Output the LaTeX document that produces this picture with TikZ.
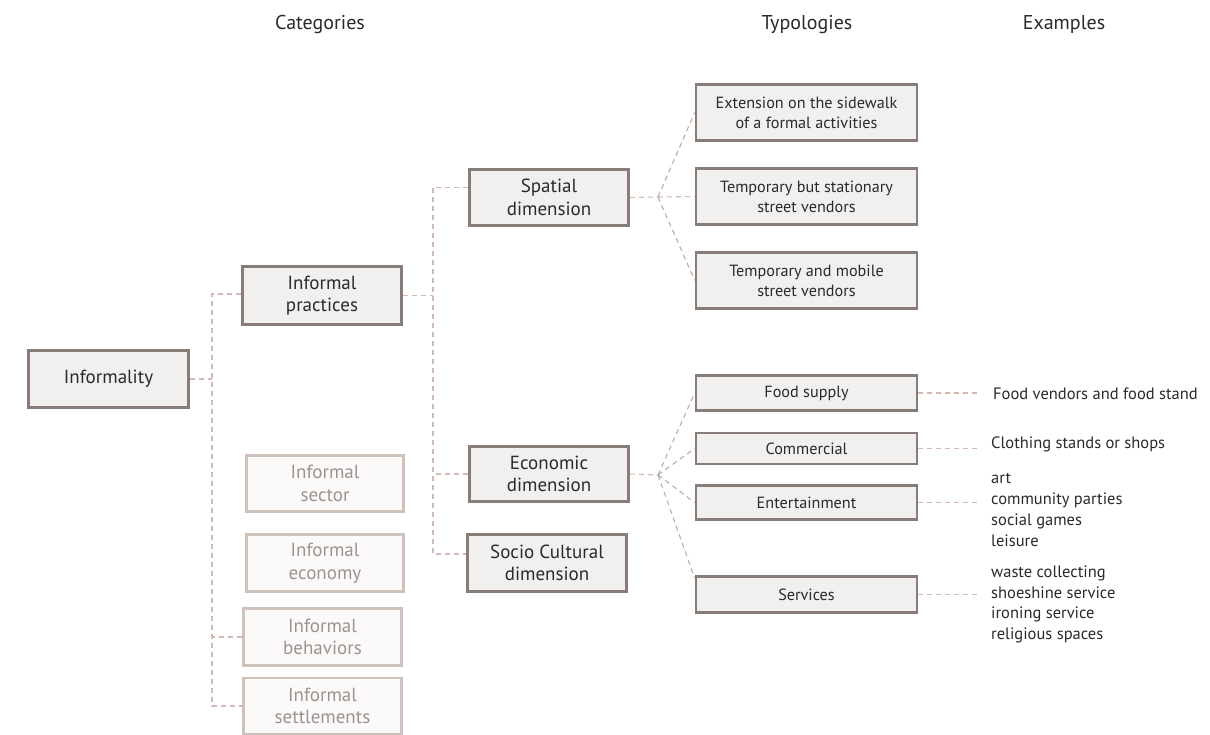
\documentclass[tikz,border=0pt]{standalone}
\usepackage{fontspec}
\setmainfont{PT Sans}
\usetikzlibrary{calc}
\definecolor{bdark}{HTML}{877C77}
\definecolor{fdark}{HTML}{F2F0EF}
\definecolor{tdark}{HTML}{2A2A2A}
\definecolor{blight}{HTML}{CFC2BC}
\definecolor{flight}{HTML}{FBFAF9}
\definecolor{tlight}{HTML}{9A9391}
\definecolor{conncol}{HTML}{D3B9B1}
\definecolor{fancol}{HTML}{B9AFAB}
\tikzset{
  dbox/.style={draw=bdark, line width=2.6pt, fill=fdark, text=tdark, align=center, inner sep=0pt,
    font=\fontsize{19}{22.5}\selectfont},
  lbox/.style={draw=blight, line width=2.4pt, fill=flight, text=tlight, align=center, inner sep=0pt,
    font=\fontsize{19}{22.5}\selectfont},
  tbox/.style={draw=bdark, line width=2.6pt, fill=fdark, text=tdark, align=center, inner sep=0pt,
    minimum width=221pt, font=\fontsize{16.2}{20}\selectfont},
  conn/.style={draw=conncol, line width=1.1pt, dash pattern=on 5pt off 4pt},
  fan/.style={draw=fancol, line width=1.1pt, dash pattern=on 5pt off 4pt},
  hdr/.style={text=tdark, font=\fontsize{20}{24}\selectfont},
  extxt/.style={text=tdark, anchor=north west, align=left, inner sep=0pt}
}
\begin{document}
\begin{tikzpicture}[x=1pt,y=-1pt]
\useasboundingbox[fill=white] (0,0) rectangle (1210,735);

% headers
\node[hdr] (hcat) at (320,25) {Categories};
\node[hdr] (htyp) at (807,25) {Typologies};
\node[hdr] (hex) at (1064,25) {Examples};

% categories
\node[dbox, minimum width=160pt, minimum height=57pt] (inf) at (108.5,379) {Informality};
\node[dbox, minimum width=159pt, minimum height=58pt] (prac) at (322,295.5) {Informal\\practices};
\node[lbox, minimum width=157pt, minimum height=56pt] (sec) at (325,483.5) {Informal\\sector};
\node[lbox, minimum width=157pt, minimum height=57pt] (eco) at (325,563) {Informal\\economy};
\node[lbox, minimum width=158pt, minimum height=57pt] (beh) at (322.5,637) {Informal\\behaviors};
\node[lbox, minimum width=158pt, minimum height=56pt] (set) at (322.5,706) {Informal\\settlements};

% dimensions
\node[dbox, minimum width=159pt, minimum height=56pt] (spa) at (549,197.5) {Spatial\\dimension};
\node[dbox, minimum width=159pt, minimum height=55pt] (ecd) at (549,474) {Economic\\dimension};
\node[dbox, minimum width=159pt, minimum height=57pt] (soc) at (547,563) {Socio Cultural\\dimension};

% typologies
\node[tbox, minimum height=56pt] (ext) at (806.5,112.5) {Extension on the sidewalk\\of a formal activities};
\node[tbox, minimum height=56pt] (sta) at (806.5,196.5) {Temporary but stationary\\street vendors};
\node[tbox, minimum height=56pt] (mob) at (806.5,280.5) {Temporary and mobile\\street vendors};
\node[tbox, minimum height=35pt] (food) at (806.5,393) {Food supply};
\node[tbox, minimum height=31pt] (com) at (806.5,448.5) {Commercial};
\node[tbox, minimum height=34pt] (ent) at (806.5,502.5) {Entertainment};
\node[tbox, minimum height=36pt] (svc) at (806.5,594.5) {Services};

% examples
\node[extxt, font=\fontsize{16.5}{21}\selectfont] (exfood) at (993,388) {Food vendors and food stand};
\node[extxt, font=\fontsize{16.5}{21}\selectfont] (excom) at (991,437) {Clothing stands or shops};
\node[extxt, font=\fontsize{16.5}{21}\selectfont] (exent) at (991,473) {art\\community parties\\social games\\leisure};
\node[extxt, font=\fontsize{16.5}{20.5}\selectfont] (exsvc) at (991,566) {waste collecting\\shoeshine service\\ironing service\\religious spaces};

% spines
\coordinate (sL) at (212,0);
\coordinate (sR) at (433,0);
\coordinate (fs) at (658,197);
\coordinate (fe) at (658,475);

% left connectors
\draw[conn] (inf.east) -- (inf.east -| sL);
\draw[conn] ($(prac.west)+(0,-1.5)$) -| (sL |- set.west) -- (set.west);
\draw[conn] (beh.west) -- (beh.west -| sL);

% right spine
\draw[conn] (prac.east) -- (prac.east -| sR);
\draw[conn] ($(spa.west)+(0,-10)$) -| (sR |- {$(soc.west)+(0,-9)$}) -- ($(soc.west)+(0,-9)$);
\draw[conn] (ecd.west) -- (ecd.west -| sR);

% spatial fan
\draw[conn] (spa.east) -- (fs);
\draw[fan] (fs) -- (ext.west);
\draw[conn] (fs) -- (sta.west);
\draw[fan] (fs) -- (mob.west);

% economic fan
\draw[conn] (ecd.east) -- (fe);
\draw[fan] (fe) -- (food.west);
\draw[fan] (fe) -- (com.west);
\draw[fan] (fe) -- (ent.west);
\draw[fan] (fe) -- ($(svc.north west)+(0,3)$);

% example connectors
\draw[conn, shorten >=12pt] (food.east) -- (food.east -| exfood.west);
\draw[conn, shorten >=12pt] (com.east) -- (com.east -| excom.west);
\draw[conn, shorten >=12pt] (ent.east) -- (ent.east -| exent.west);
\draw[conn, shorten >=12pt] (svc.east) -- (svc.east -| exsvc.west);
\end{tikzpicture}
\end{document}
